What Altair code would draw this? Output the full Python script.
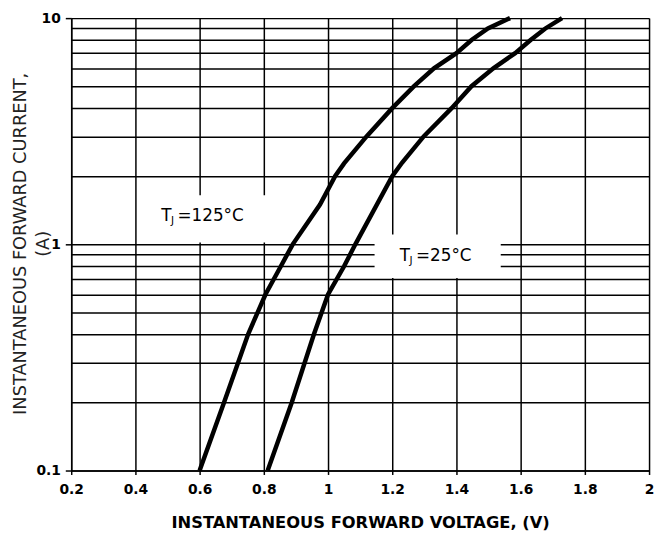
import altair as alt
import pandas as pd

# ---- data ----
x_ticks = [0.2, 0.4, 0.6, 0.8, 1.0, 1.2, 1.4, 1.6, 1.8, 2.0]
y_grid = [0.1, 0.2, 0.3, 0.4, 0.5, 0.6, 0.7, 0.8, 0.9,
          1, 2, 3, 4, 5, 6, 7, 8, 9, 10]

v_125 = [0.60, 0.676, 0.751, 0.805, 0.853, 0.890, 0.975, 1.022, 1.05,
         1.12, 1.20, 1.268, 1.33, 1.40, 1.447, 1.498, 1.567]
i_125 = [0.1, 0.2, 0.4, 0.6, 0.8, 1.0, 1.5, 2.0, 2.28,
         3, 4, 5, 6, 7, 8, 9, 10]

v_25 = [0.812, 0.887, 0.956, 1.0, 1.05, 1.085, 1.2, 1.231, 1.298,
        1.385, 1.447, 1.515, 1.583, 1.631, 1.677, 1.729]
i_25 = [0.1, 0.2, 0.4, 0.6, 0.8, 1.0, 2.0, 2.3, 3,
        4, 5, 6, 7, 8, 9, 10]

label_names = ["125", "25"]
label_x = [0.531, 1.274]          # left of "=" (V)
label_y = [1.265, 0.845]          # text baseline (A)
label_rest = ["=125°C", "=25°C"]
box_x1 = [0.42, 1.145]
box_x2 = [0.95, 1.538]
box_y1 = [1.02, 0.71]
box_y2 = [1.65, 1.106]

curves = pd.DataFrame(
    {"V": v_125 + v_25,
     "I": i_125 + i_25,
     "series": ["125"] * len(v_125) + ["25"] * len(v_25)}
)
labels = pd.DataFrame({"name": label_names, "x": label_x, "y": label_y,
                       "rest": label_rest, "T": ["T", "T"], "J": ["J", "J"]})
boxes = pd.DataFrame({"x1": box_x1, "x2": box_x2, "y1": box_y1, "y2": box_y2})

FONT = "DejaVu Sans"
decade_test = "indexof([0.1, 1, 10], datum.value) >= 0"

xscale = alt.Scale(domain=[0.2, 2.0], nice=False, zero=False)
yscale = alt.Scale(type="log", domain=[0.1, 10], nice=False)

xaxis = alt.Axis(
    values=x_ticks, format="~g", grid=True,
    gridColor="black", gridWidth=1.5, gridOpacity=1,
    domainColor="black", domainWidth=1.5,
    tickColor="black", tickWidth=1.5, tickSize=4,
    labelFont=FONT, labelFontWeight="bold", labelFontSize=14,
    labelColor="black", labelPadding=8, labelFlush=False,
    title="INSTANTANEOUS FORWARD VOLTAGE, (V)",
    titleFont=FONT, titleFontWeight="bold", titleFontSize=16.5,
    titleColor="black", titleY=58, titleBaseline="alphabetic",
)
yaxis = alt.Axis(
    values=y_grid, format="~g", grid=True,
    gridColor="black", gridWidth=1.5, gridOpacity=1,
    domainColor="black", domainWidth=1.5,
    tickColor="black", tickWidth=1.5, tickSize=6,
    tickOpacity={"condition": {"test": decade_test, "value": 1}, "value": 0},
    labelExpr=decade_test + " ? datum.label : ''",
    labelFont=FONT, labelFontWeight="bold", labelFontSize=14,
    labelColor="black", labelPadding=5, labelFlush=False,
    title=["INSTANTANEOUS FORWARD CURRENT,", "(A)"],
    titleFont=FONT, titleFontWeight="normal", titleFontSize=18,
    titleColor="#222222", titleAngle=270, titleAlign="center",
    titleBaseline="middle", titleLineHeight=23,
    titleX=-51, titleY=228,
)

box_layer = alt.Chart(boxes).mark_rect(color="white", strokeWidth=0).encode(
    x=alt.X("x1:Q", scale=xscale, axis=xaxis),
    x2="x2:Q",
    y=alt.Y("y1:Q", scale=yscale, axis=yaxis),
    y2="y2:Q",
)

line_layer = alt.Chart(curves).mark_line(color="black", strokeWidth=4.5).encode(
    x=alt.X("V:Q", scale=xscale, axis=xaxis),
    y=alt.Y("I:Q", scale=yscale, axis=yaxis),
    detail="series:N",
)

base_txt = alt.Chart(labels).encode(
    x=alt.X("x:Q", scale=xscale, axis=xaxis),
    y=alt.Y("y:Q", scale=yscale, axis=yaxis),
)
t_layer = base_txt.mark_text(font=FONT, fontSize=17, color="black",
                             align="right", baseline="alphabetic", dx=-6
                             ).encode(text="T:N")
j_layer = base_txt.mark_text(font=FONT, fontSize=10.5, color="black",
                             align="left", baseline="alphabetic", dx=-6.5, dy=3
                             ).encode(text="J:N")
rest_layer = base_txt.mark_text(font=FONT, fontSize=17, color="black",
                                align="left", baseline="alphabetic"
                                ).encode(text="rest:N")

chart = alt.layer(box_layer, line_layer, t_layer, j_layer, rest_layer).properties(
    width=585, height=458,
    autosize=alt.AutoSizeParams(type="none"),
    padding={"left": 64, "top": 7, "right": 5, "bottom": 60},
    background="white",
).configure_view(stroke=None)

chart.save("out.html", embed_options={"renderer": "svg", "actions": False})
